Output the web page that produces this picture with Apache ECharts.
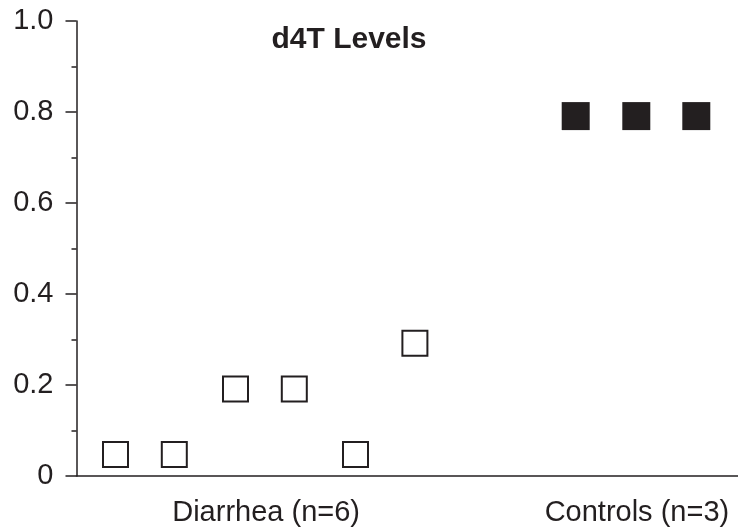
<!DOCTYPE html>
<html>
<head>
<meta charset="utf-8">
<script src="https://cdn.jsdelivr.net/npm/echarts@6/dist/echarts.min.js"></script>
<style>html,body{margin:0;padding:0;background:#fff}#c{width:738px;height:529px}</style>
</head>
<body>
<div id="c"></div>
<script>
var titleText = 'd4T Levels';
var groupLabels = ['Diarrhea (n=6)', 'Controls (n=3)'];
var groupLabelPos = [3.16, 9.34];
var diarrheaX = [0.65, 1.63, 2.65, 3.63, 4.65, 5.64];
var diarrheaY = [0.047, 0.047, 0.191, 0.191, 0.047, 0.292];
var controlsX = [8.32, 9.33, 10.33];
var controlsY = [0.791, 0.791, 0.791];
var yTickLabels = {0: '0', 0.2: '0.2', 0.4: '0.4', 0.6: '0.6', 0.8: '0.8', 1: '1.0'};

function pairs(xs, ys) { return xs.map(function (x, i) { return [x, ys[i]]; }); }

var ink = '#231f20';
var font = '"Liberation Sans", Arial, Helvetica, sans-serif';
var chart = echarts.init(document.getElementById('c'), null, {renderer: 'canvas'});
chart.setOption({
  animation: false,
  backgroundColor: '#fff',
  title: {
    text: titleText, left: 344, top: 20, textAlign: 'center',
    textStyle: {fontFamily: font, fontWeight: 'bold', fontSize: 30, color: ink}
  },
  grid: {left: 76.5, right: 0, top: 21, bottom: 53, containLabel: false},
  xAxis: {
    type: 'value', min: 0, max: 11.025,
    splitLine: {show: false},
    axisTick: {show: false},
    axisLine: {show: true, onZero: false, lineStyle: {color: ink, width: 1.5}},
    axisLabel: {
      show: true, customValues: groupLabelPos, margin: 22,
      fontFamily: font, fontSize: 29, color: ink,
      formatter: function (v) {
        for (var i = 0; i < groupLabelPos.length; i++) {
          if (Math.abs(v - groupLabelPos[i]) < 1e-6) return groupLabels[i];
        }
        return '';
      }
    }
  },
  yAxis: {
    type: 'value', min: 0, max: 1, interval: 0.2,
    splitLine: {show: false},
    axisLine: {show: true, lineStyle: {color: ink, width: 1.5}},
    axisTick: {show: true, length: 11, lineStyle: {color: ink, width: 1.5}},
    minorTick: {show: true, splitNumber: 2, length: 5, lineStyle: {color: ink, width: 1.5}},
    axisLabel: {
      margin: 23, fontFamily: font, fontSize: 29, color: ink,
      formatter: function (v) { var k = Math.round(v * 10) / 10; return yTickLabels[k] !== undefined ? yTickLabels[k] : ''; }
    }
  },
  series: [
    {
      type: 'scatter', name: 'Diarrhea', data: pairs(diarrheaX, diarrheaY),
      symbol: 'rect', symbolSize: 25,
      itemStyle: {color: '#fff', borderColor: ink, borderWidth: 2, opacity: 1}
    },
    {
      type: 'scatter', name: 'Controls', data: pairs(controlsX, controlsY),
      symbol: 'rect', symbolSize: 28,
      itemStyle: {color: ink, opacity: 1}
    }
  ]
});
</script>
</body>
</html>
